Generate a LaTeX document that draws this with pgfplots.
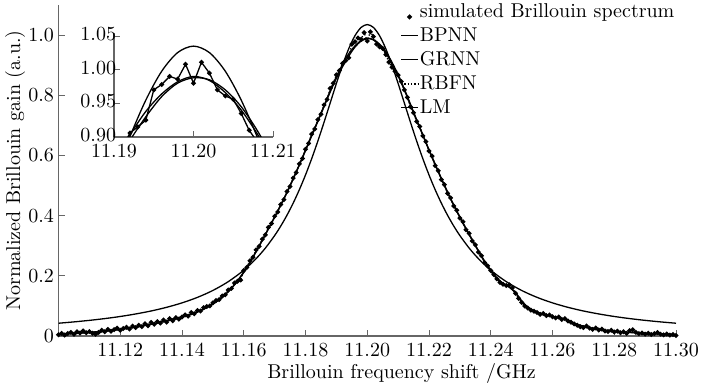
\documentclass[border=0pt]{standalone}
\usepackage{pgfplots}
\pgfplotsset{compat=1.18}
\usepackage{pgfplotstable}

\pgfplotstableread[row sep=\\]{
x y\\
11.100 0.004\\ 11.101 0.009\\ 11.102 0.003\\ 11.103 0.008\\ 11.104 0.012\\
11.105 0.006\\ 11.106 0.014\\ 11.107 0.010\\ 11.108 0.017\\ 11.109 0.011\\
11.110 0.015\\ 11.111 0.009\\ 11.112 0.006\\ 11.113 0.012\\ 11.114 0.019\\
11.115 0.014\\ 11.116 0.022\\ 11.117 0.016\\ 11.118 0.021\\ 11.119 0.026\\
11.120 0.019\\ 11.121 0.025\\ 11.122 0.029\\ 11.123 0.023\\ 11.124 0.033\\
11.125 0.028\\ 11.126 0.036\\ 11.127 0.031\\ 11.128 0.041\\ 11.129 0.034\\
11.130 0.045\\ 11.131 0.039\\ 11.132 0.048\\ 11.133 0.043\\ 11.134 0.053\\
11.135 0.046\\ 11.136 0.058\\ 11.137 0.051\\ 11.138 0.061\\ 11.139 0.056\\
11.140 0.063\\ 11.141 0.070\\ 11.142 0.066\\ 11.143 0.078\\ 11.144 0.074\\
11.145 0.085\\ 11.146 0.083\\ 11.147 0.094\\ 11.148 0.098\\ 11.149 0.100\\
11.150 0.110\\ 11.151 0.118\\ 11.152 0.121\\ 11.153 0.133\\ 11.154 0.137\\
11.155 0.153\\ 11.156 0.158\\ 11.157 0.176\\ 11.158 0.182\\ 11.159 0.186\\
11.160 0.218\\ 11.161 0.228\\ 11.162 0.250\\ 11.163 0.262\\ 11.164 0.286\\
11.165 0.298\\ 11.166 0.322\\ 11.167 0.336\\ 11.168 0.361\\ 11.169 0.374\\
11.170 0.398\\ 11.171 0.412\\ 11.172 0.437\\ 11.173 0.453\\ 11.174 0.480\\
11.175 0.497\\ 11.176 0.525\\ 11.177 0.543\\ 11.178 0.572\\ 11.179 0.590\\
11.180 0.621\\ 11.181 0.640\\ 11.182 0.671\\ 11.183 0.688\\ 11.184 0.719\\
11.185 0.737\\ 11.186 0.768\\ 11.187 0.786\\ 11.188 0.823\\ 11.189 0.840\\
11.190 0.868\\ 11.191 0.882\\ 11.192 0.906\\ 11.193 0.915\\ 11.194 0.925\\
11.195 0.970\\ 11.196 0.978\\ 11.197 0.990\\ 11.198 0.986\\ 11.199 1.008\\
11.200 0.980\\ 11.201 1.011\\ 11.202 0.995\\ 11.203 0.970\\ 11.204 0.961\\
11.205 0.956\\ 11.206 0.935\\ 11.207 0.910\\ 11.208 0.893\\ 11.209 0.880\\
11.210 0.867\\ 11.211 0.846\\ 11.212 0.818\\ 11.213 0.793\\ 11.214 0.762\\
11.215 0.742\\ 11.216 0.713\\ 11.217 0.696\\ 11.218 0.665\\ 11.219 0.646\\
11.220 0.615\\ 11.221 0.598\\ 11.222 0.566\\ 11.223 0.549\\ 11.224 0.520\\
11.225 0.503\\ 11.226 0.474\\ 11.227 0.459\\ 11.228 0.432\\ 11.229 0.418\\
11.230 0.392\\ 11.231 0.380\\ 11.232 0.353\\ 11.233 0.341\\ 11.234 0.316\\
11.235 0.303\\ 11.236 0.279\\ 11.237 0.267\\ 11.238 0.244\\ 11.239 0.233\\
11.240 0.218\\ 11.241 0.204\\ 11.242 0.190\\ 11.243 0.178\\ 11.244 0.172\\
11.245 0.168\\ 11.246 0.170\\ 11.247 0.160\\ 11.248 0.142\\ 11.249 0.125\\
11.250 0.112\\ 11.251 0.100\\ 11.252 0.093\\ 11.253 0.086\\ 11.254 0.082\\
11.255 0.078\\ 11.256 0.072\\ 11.257 0.075\\ 11.258 0.068\\ 11.259 0.070\\
11.260 0.064\\ 11.261 0.060\\ 11.262 0.063\\ 11.263 0.055\\ 11.264 0.058\\
11.265 0.050\\ 11.266 0.046\\ 11.267 0.040\\ 11.268 0.036\\ 11.269 0.031\\
11.270 0.028\\ 11.271 0.033\\ 11.272 0.026\\ 11.273 0.022\\ 11.274 0.027\\
11.275 0.020\\ 11.276 0.023\\ 11.277 0.017\\ 11.278 0.015\\ 11.279 0.019\\
11.280 0.013\\ 11.281 0.016\\ 11.282 0.011\\ 11.283 0.014\\ 11.284 0.009\\
11.285 0.018\\ 11.286 0.021\\ 11.287 0.012\\ 11.288 0.008\\ 11.289 0.010\\
11.290 0.006\\ 11.291 0.009\\ 11.292 0.005\\ 11.293 0.008\\ 11.294 0.012\\
11.295 0.006\\ 11.296 0.004\\ 11.297 0.007\\ 11.298 0.003\\ 11.299 0.005\\
11.300 0.002\\
}\simdata

\pgfplotstableread[row sep=\\]{
x y\\
11.100 0.006\\ 11.104 0.008\\ 11.108 0.010\\ 11.112 0.013\\ 11.116 0.017\\
11.120 0.022\\ 11.124 0.028\\ 11.128 0.035\\ 11.132 0.043\\ 11.136 0.052\\
11.140 0.063\\ 11.144 0.075\\ 11.148 0.094\\ 11.150 0.106\\ 11.152 0.120\\
11.154 0.137\\ 11.156 0.158\\ 11.158 0.184\\ 11.160 0.213\\ 11.162 0.246\\
11.164 0.281\\ 11.166 0.319\\ 11.168 0.357\\ 11.170 0.396\\ 11.172 0.436\\
11.174 0.478\\ 11.176 0.523\\ 11.178 0.570\\ 11.180 0.618\\ 11.182 0.668\\
11.184 0.716\\ 11.186 0.765\\ 11.188 0.815\\ 11.190 0.862\\ 11.192 0.903\\
11.194 0.938\\ 11.196 0.964\\ 11.198 0.982\\ 11.200 0.990\\ 11.202 0.984\\
11.204 0.966\\ 11.206 0.940\\ 11.208 0.905\\ 11.210 0.864\\ 11.212 0.818\\
11.214 0.767\\ 11.216 0.716\\ 11.218 0.667\\ 11.220 0.617\\ 11.222 0.569\\
11.224 0.522\\ 11.226 0.477\\ 11.228 0.434\\ 11.230 0.394\\ 11.232 0.355\\
11.234 0.318\\ 11.236 0.282\\ 11.238 0.247\\ 11.240 0.215\\ 11.242 0.190\\
11.244 0.172\\ 11.246 0.162\\ 11.248 0.143\\ 11.250 0.114\\ 11.252 0.094\\
11.254 0.083\\ 11.256 0.075\\ 11.260 0.064\\ 11.264 0.056\\ 11.268 0.038\\
11.272 0.027\\ 11.276 0.020\\ 11.280 0.015\\ 11.284 0.012\\ 11.288 0.010\\
11.292 0.007\\ 11.296 0.006\\ 11.300 0.004\\
}\bpnn

\pgfplotstableread[row sep=\\]{
x y\\
11.100 0.008\\ 11.104 0.009\\ 11.108 0.011\\ 11.112 0.014\\ 11.116 0.018\\
11.120 0.022\\ 11.124 0.029\\ 11.128 0.036\\ 11.132 0.044\\ 11.136 0.054\\
11.140 0.064\\ 11.144 0.077\\ 11.148 0.095\\ 11.150 0.107\\ 11.152 0.121\\
11.154 0.138\\ 11.156 0.159\\ 11.158 0.183\\ 11.160 0.211\\ 11.162 0.244\\
11.164 0.280\\ 11.166 0.317\\ 11.168 0.356\\ 11.170 0.395\\ 11.172 0.435\\
11.174 0.477\\ 11.176 0.521\\ 11.178 0.568\\ 11.180 0.616\\ 11.182 0.665\\
11.184 0.713\\ 11.186 0.762\\ 11.188 0.811\\ 11.190 0.856\\ 11.192 0.895\\
11.194 0.930\\ 11.196 0.960\\ 11.198 0.980\\ 11.200 0.988\\ 11.202 0.985\\
11.204 0.970\\ 11.206 0.945\\ 11.208 0.910\\ 11.210 0.868\\ 11.212 0.821\\
11.214 0.770\\ 11.216 0.719\\ 11.218 0.669\\ 11.220 0.619\\ 11.222 0.571\\
11.224 0.524\\ 11.226 0.479\\ 11.228 0.436\\ 11.230 0.396\\ 11.232 0.357\\
11.234 0.320\\ 11.236 0.284\\ 11.238 0.249\\ 11.240 0.218\\ 11.242 0.193\\
11.244 0.175\\ 11.246 0.163\\ 11.248 0.145\\ 11.250 0.117\\ 11.252 0.096\\
11.254 0.084\\ 11.256 0.076\\ 11.260 0.065\\ 11.264 0.056\\ 11.268 0.039\\
11.272 0.028\\ 11.276 0.021\\ 11.280 0.016\\ 11.284 0.013\\ 11.288 0.011\\
11.292 0.008\\ 11.296 0.007\\ 11.300 0.005\\
}\grnn

\pgfplotstableread[row sep=\\]{
x y\\
11.100 0.0425\\ 11.105 0.0469\\ 11.110 0.0520\\ 11.115 0.0579\\ 11.120 0.0649\\
11.125 0.0733\\ 11.130 0.0832\\ 11.135 0.0953\\ 11.140 0.1101\\ 11.145 0.1284\\
11.150 0.1514\\ 11.155 0.1808\\ 11.160 0.2186\\ 11.164 0.2572\\ 11.167 0.2922\\
11.170 0.3338\\ 11.172 0.3657\\ 11.174 0.4015\\ 11.176 0.4415\\ 11.178 0.4860\\
11.180 0.5353\\ 11.182 0.5893\\ 11.184 0.6479\\ 11.186 0.7102\\ 11.188 0.7747\\
11.190 0.8392\\ 11.192 0.9005\\ 11.194 0.9548\\ 11.196 0.9977\\ 11.198 1.0254\\
11.200 1.0350\\ 11.202 1.0254\\ 11.204 0.9977\\ 11.206 0.9548\\ 11.208 0.9005\\
11.210 0.8392\\ 11.212 0.7747\\ 11.214 0.7102\\ 11.216 0.6479\\ 11.218 0.5893\\
11.220 0.5353\\ 11.222 0.4860\\ 11.224 0.4415\\ 11.226 0.4015\\ 11.228 0.3657\\
11.230 0.3338\\ 11.233 0.2922\\ 11.236 0.2572\\ 11.240 0.2186\\ 11.245 0.1808\\
11.250 0.1514\\ 11.255 0.1284\\ 11.260 0.1101\\ 11.265 0.0953\\ 11.270 0.0832\\
11.275 0.0733\\ 11.280 0.0649\\ 11.285 0.0579\\ 11.290 0.0520\\ 11.295 0.0469\\
11.300 0.0425\\
}\lmfit

\pgfplotsset{
  myaxis/.style={
    scale only axis,
    axis x line=bottom, axis y line=left,
    axis line style={-, draw=gray!80!black, line width=0.6pt},
    tick align=inside,
    major tick length=3pt,
    tick style={gray!80!black, line width=0.5pt},
    yticklabel style={xshift=1.2pt},
    every axis plot/.append style={line width=0.65pt},
  },
}

\begin{document}
\begin{tikzpicture}
\path[use as bounding box] (-29.25pt,-25.5pt) rectangle (322.75pt,168pt);
\begin{axis}[
  myaxis,
  width=308.75pt, height=165.5pt,
  xmin=11.10, xmax=11.30, ymin=0, ymax=1.1,
  xtick={11.12,11.14,11.16,11.18,11.20,11.22,11.24,11.26,11.28,11.30},
  xticklabels={11.12,11.14,11.16,11.18,11.20,11.22,11.24,11.26,11.28,11.30},
  ytick={0,0.2,0.4,0.6,0.8,1.0},
  yticklabels={0,0.2,0.4,0.6,0.8,1.0},
  xlabel={Brillouin frequency shift /GHz},
  ylabel={Normalized Brillouin gain (a.u.)},
  xlabel style={at={(axis description cs:0.5555,-0.112)}, anchor=center},
  ylabel style={at={(axis description cs:-0.0704,0.5)}, anchor=center},
  legend style={at={(axis description cs:0.553,1.01)}, anchor=north west,
    draw=none, fill=none, font=\normalsize, inner sep=0pt, row sep=2.4pt,
    nodes={inner sep=0.6pt}},
  legend cell align=left,
  legend image code/.code={\draw[#1] (0pt,0pt) -- (8.5pt,0pt);},
]
\addplot[only marks, mark=*, mark size=0.85pt, black,
  legend image code/.code={\fill (4.25pt,-2.6pt) circle (0.9pt);}] table {\simdata};
\addlegendentry{simulated Brillouin spectrum}
\addplot[black, smooth] table {\bpnn};
\addlegendentry{BPNN}
\addplot[black, smooth] table {\grnn};
\addlegendentry{GRNN}
\addplot[black, densely dotted] table {\simdata};
\addlegendentry{RBFN}
\addplot[black, smooth] table {\lmfit};
\addlegendentry{LM}
\end{axis}

\begin{axis}[
  myaxis,
  at={(27.75pt,99.5pt)}, anchor=south west,
  width=79.5pt, height=52pt,
  xmin=11.19, xmax=11.21, ymin=0.90, ymax=1.0545,
  xtick={11.19,11.20,11.21}, xticklabels={11.19,11.20,11.21},
  ytick={0.90,0.95,1.00,1.05}, yticklabels={0.90,0.95,1.00,1.05},
  xticklabel style={yshift=-2.5pt, inner sep=0.8pt},
  yticklabel style={xshift=1.2pt, yshift=1pt, inner sep=1.2pt},
]
\addplot[black, smooth] table {\bpnn};
\addplot[black, smooth] table {\grnn};
\addplot[black] table {\simdata};
\addplot[only marks, mark=*, mark size=0.85pt, black] table {\simdata};
\addplot[black, smooth] table {\lmfit};
\end{axis}
\end{tikzpicture}
\end{document}
